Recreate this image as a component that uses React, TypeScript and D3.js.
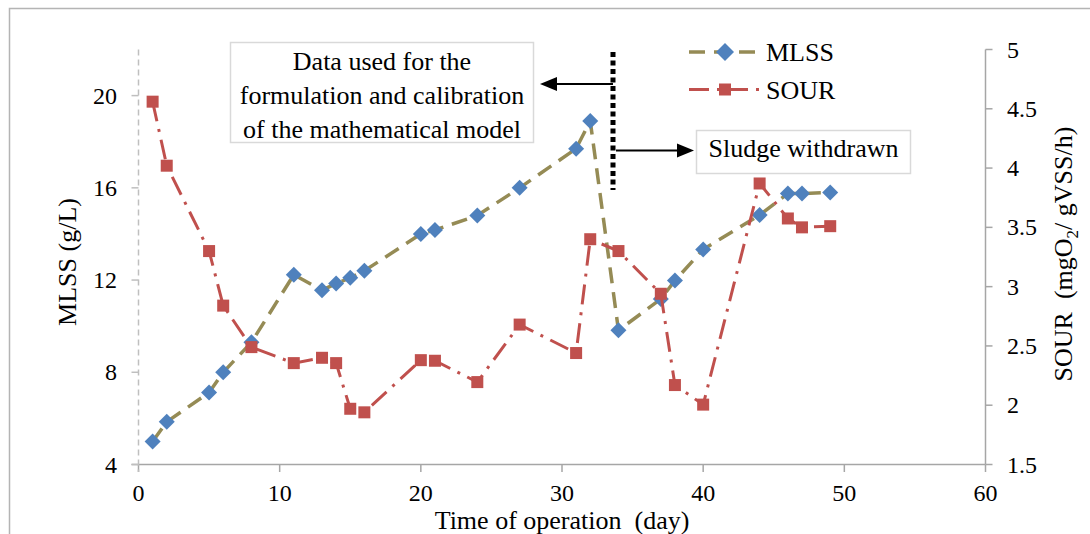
import React from "react";
import * as d3 from "d3";

const days = [1, 2, 5, 6, 8, 11, 13, 14, 15, 16, 20, 21, 24, 27, 31, 32, 34, 37, 38, 40, 44, 46, 47, 49];
const mlss = [5.0, 5.85, 7.12, 8.0, 9.3, 12.23, 11.56, 11.85, 12.1, 12.4, 14.0, 14.17, 14.8, 16.0, 17.7, 18.9, 9.82, 11.18, 11.98, 13.33, 14.82, 15.75, 15.75, 15.8];
const sour = [4.56, 4.02, 3.3, 2.84, 2.49, 2.355, 2.4, 2.355, 1.97, 1.94, 2.38, 2.375, 2.195, 2.68, 2.44, 3.4, 3.3, 2.94, 2.17, 2.005, 3.87, 3.575, 3.5, 3.51];
const xTicks = [0, 10, 20, 30, 40, 50, 60];
const leftTicks = [4, 8, 12, 16, 20];
const rightTicks = [1.5, 2, 2.5, 3, 3.5, 4, 4.5, 5];
const annotationLines = ["Data used for the", "formulation and calibration", "of the mathematical model"];
const seriesNames = ["MLSS", "SOUR"];

const FONT = "'Liberation Serif', 'Times New Roman', serif";
const BLUE = "#4F81BD";
const RED = "#C0504D";
const OLIVE = "#958B55";
const AXIS = "#A6A6A6";

export default function App() {
  const x = d3.scaleLinear().domain([0, 60]).range([138.5, 985.5]);
  const yL = d3.scaleLinear().domain([4, 22]).range([464.5, 49.5]);
  const yR = d3.scaleLinear().domain([1.5, 5]).range([464.5, 49.5]);

  const mlssPts: [number, number][] = days.map((d, i) => [x(d), yL(mlss[i])]);
  const sourPts: [number, number][] = days.map((d, i) => [x(d), yR(sour[i])]);
  const line = d3.line();

  const diamond = (cx: number, cy: number, r = 8) =>
    `M${cx},${cy - r}L${cx + r},${cy}L${cx},${cy + r}L${cx - r},${cy}Z`;

  const mlssDash = "16 9";
  const sourDash = "20 8 3 8";

  return (
    <div style={{ position: "absolute", left: 0, top: 0 }}>
      <svg width={1090} height={534} style={{ display: "block", fontFamily: FONT }}>
        <rect x={0} y={0} width={1090} height={534} fill="#fff" />
        {/* outer chart border */}
        <rect x={9.5} y={8.5} width={1200} height={700} fill="none" stroke="#B4B4B4" strokeWidth={1.5} />

        {/* x axis */}
        <line x1={x(0) - 7} x2={x(60)} y1={464.5} y2={464.5} stroke={AXIS} strokeWidth={1.5} />
        {xTicks.map((t) => (
          <g key={"xt" + t}>
            <line x1={x(t)} x2={x(t)} y1={464.5} y2={472} stroke={AXIS} strokeWidth={1.5} />
            <text x={x(t)} y={500.5} fontSize={24} textAnchor="middle" fill="#000">{t}</text>
          </g>
        ))}

        {/* left axis (dashed) */}
        <line x1={x(0)} x2={x(0)} y1={yL(22)} y2={472} stroke="#BFBFBF" strokeWidth={1.5} strokeDasharray="6 4" />
        {leftTicks.map((t) => (
          <g key={"lt" + t}>
            <line x1={x(0) - 7} x2={x(0)} y1={yL(t)} y2={yL(t)} stroke="#BFBFBF" strokeWidth={1.5} />
            <text x={117} y={yL(t) + 8} fontSize={24} textAnchor="end" fill="#000">{t}</text>
          </g>
        ))}

        {/* right axis */}
        <line x1={x(60)} x2={x(60)} y1={yR(5)} y2={464.5} stroke={AXIS} strokeWidth={1.5} />
        {rightTicks.map((t) => (
          <g key={"rt" + t}>
            <line x1={x(60)} x2={x(60) + 7} y1={yR(t)} y2={yR(t)} stroke={AXIS} strokeWidth={1.5} />
            <text x={1007} y={yR(t) + 8} fontSize={24} textAnchor="start" fill="#000">{t}</text>
          </g>
        ))}

        {/* axis titles */}
        <text x={562} y={529} fontSize={26} textAnchor="middle" style={{ whiteSpace: "pre" }}>Time of operation  (day)</text>
        <text transform={`translate(76,262) rotate(-90)`} fontSize={26} textAnchor="middle">MLSS (g/L)</text>
        <text transform={`translate(1072,254) rotate(-90)`} fontSize={26} textAnchor="middle" style={{ whiteSpace: "pre" }}>
          SOUR  (mgO<tspan dy={6} fontSize={17}>2</tspan><tspan dy={-6}>/ gVSS/h)</tspan>
        </text>

        {/* MLSS series */}
        <path d={line(mlssPts) || ""} fill="none" stroke={OLIVE} strokeWidth={3.5} strokeDasharray={mlssDash} />
        {mlssPts.map(([px, py], i) => (
          <path key={"m" + i} d={diamond(px, py)} fill={BLUE} />
        ))}

        {/* SOUR series */}
        <path d={line(sourPts) || ""} fill="none" stroke={RED} strokeWidth={3} strokeDasharray={sourDash} />
        {sourPts.map(([px, py], i) => (
          <rect key={"s" + i} x={px - 6} y={py - 6} width={12} height={12} fill={RED} />
        ))}

        {/* annotation box */}
        <rect x={230.5} y={42.5} width={303} height={100} fill="#fff" stroke="#D9D9D9" strokeWidth={1.5} />
        {annotationLines.map((s, i) => (
          <text key={"a" + i} x={382} y={70 + i * 34} fontSize={26} textAnchor="middle">{s}</text>
        ))}

        {/* dotted divider */}
        <line x1={613} x2={613} y1={52} y2={190} stroke="#000" strokeWidth={5} strokeDasharray="5 3.5" />
        {/* left arrow */}
        <line x1={613} x2={555} y1={84} y2={84} stroke="#000" strokeWidth={2} />
        <path d="M540,84L557,77L557,91Z" fill="#000" />
        {/* right arrow */}
        <line x1={616} x2={680} y1={150.5} y2={150.5} stroke="#000" strokeWidth={2} />
        <path d="M694,150.5L677,143.5L677,157.5Z" fill="#000" />

        {/* sludge box */}
        <rect x={696.5} y={130.5} width={214} height={43} fill="#fff" stroke="#D9D9D9" strokeWidth={1.5} />
        <text x={803.5} y={157} fontSize={26} textAnchor="middle">Sludge withdrawn</text>

        {/* legend */}
        <line x1={689} x2={760} y1={52} y2={52} stroke={OLIVE} strokeWidth={3.5} strokeDasharray={mlssDash} />
        <path d={diamond(725, 52, 9)} fill={BLUE} />
        <text x={766} y={61} fontSize={26}>{seriesNames[0]}</text>
        <line x1={689} x2={760} y1={89.5} y2={89.5} stroke={RED} strokeWidth={3} strokeDasharray={sourDash} />
        <rect x={719} y={83.5} width={12} height={12} fill={RED} />
        <text x={766} y={99} fontSize={26}>{seriesNames[1]}</text>
      </svg>
    </div>
  );
}
